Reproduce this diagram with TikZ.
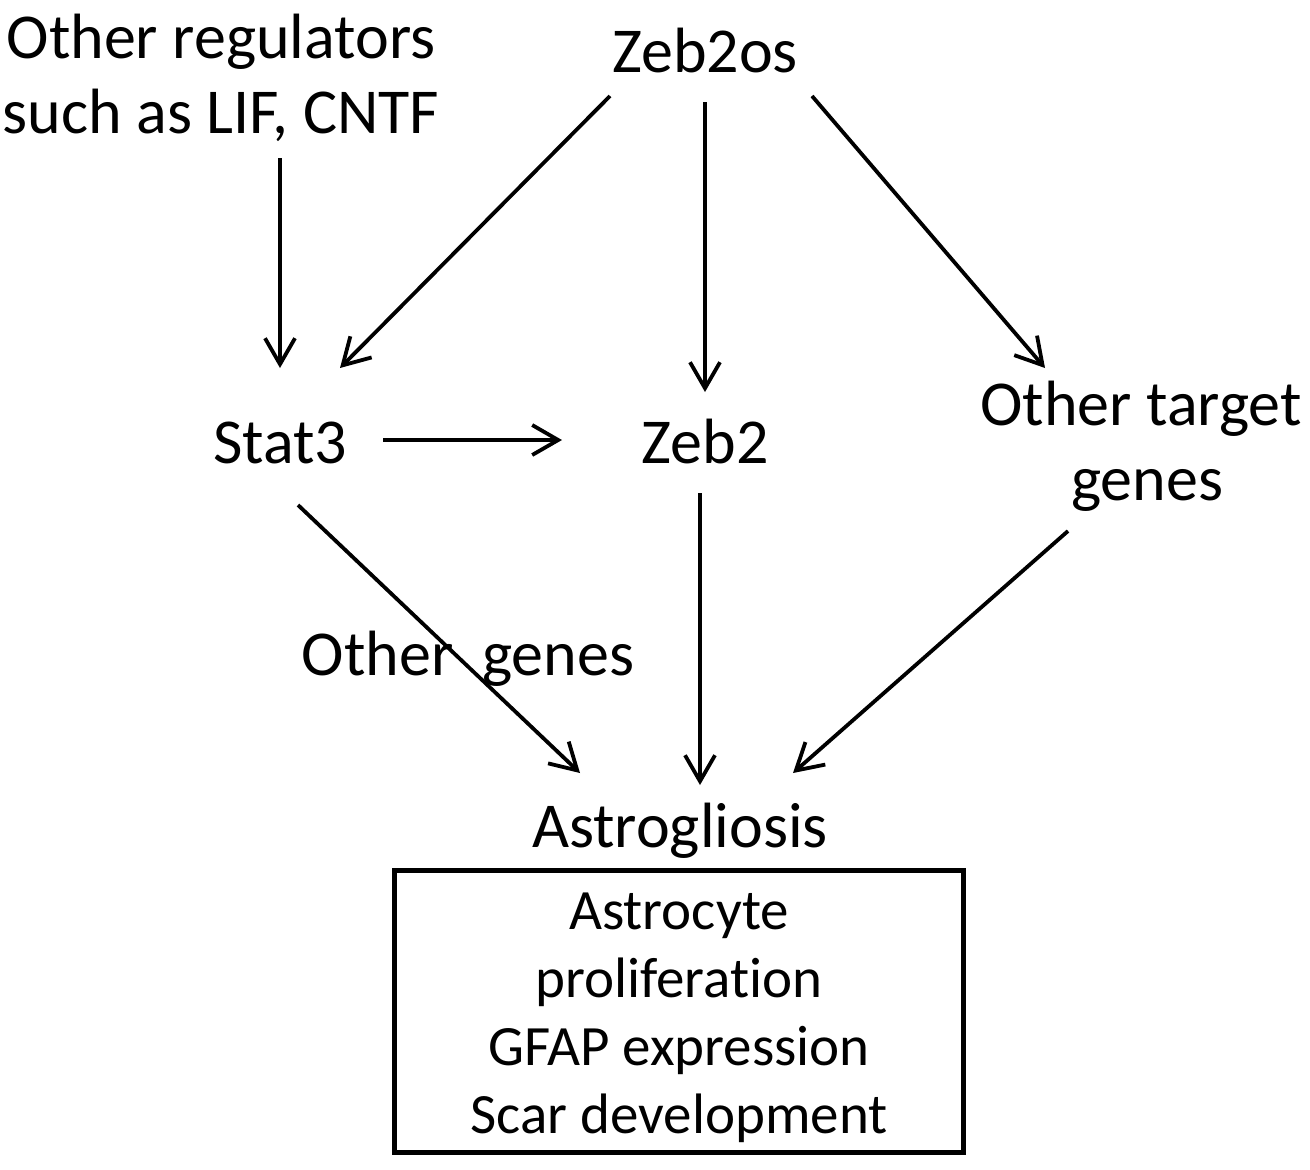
\documentclass[tikz,border=0pt]{standalone}
\usepackage{fontspec}
\setmainfont{Carlito}[Ligatures=NoCommon]
\usetikzlibrary{arrows.meta}
\begin{document}
\begin{tikzpicture}[x=0.5pt,y=-0.5pt,
  lbl/.style={font=\fontsize{32}{37.5}\selectfont, inner sep=0pt, anchor=base, align=center},
  boxtxt/.style={font=\fontsize{28.5}{34}\selectfont, inner sep=0pt, anchor=base, align=center},
  arr/.style={line width=1.9pt, -{Straight Barb[length=13pt,width=15pt]}},
  frame/.style={draw, line width=2.6pt, minimum width=284.5pt, minimum height=141pt, inner sep=0pt}]
\useasboundingbox (0,0) rectangle (1310,1169);
% nodes (base = baseline of the last line)
\node[lbl] (oreg) at (221,133) {Other regulators\\such as LIF, CNTF};
\node[lbl] (zeb2os) at (705,72) {Zeb2os};
\node[lbl] (stat3) at (280,463) {Stat3};
\node[lbl] (zeb2) at (705,463) {Zeb2};
\node[lbl] (otg) at (1141,500) {Other target\\\hspace*{6pt}genes};
\node[lbl] (ogenes) at (468,675) {Other\ \ genes};
\node[lbl] (astro) at (680,847) {Astrogliosis};
\node[frame] (box) at (679,1011.5) {};
\node[boxtxt] (boxt) at (679,1133) {Astrocyte\\proliferation\\GFAP expression\\Scar development};
% connectors
\draw[arr] ([shift={(59,25)}]oreg.base) -- ([shift={(0,-95)}]stat3.base);
\draw[arr] ([shift={(-95,24)}]zeb2os.base) -- ([shift={(60,-95)}]stat3.base);
\draw[arr] ([shift={(0,30)}]zeb2os.base) -- ([shift={(0,-71)}]zeb2.base);
\draw[arr] ([shift={(107,24)}]zeb2os.base) -- ([shift={(-96,-132)}]otg.base);
\draw[arr] ([shift={(103,-23)}]stat3.base) -- ([shift={(-143,-23)}]zeb2.base);
\draw[arr] ([shift={(18,42)}]stat3.base) -- ([shift={(-100,-74)}]astro.base);
\draw[arr] ([shift={(-5,30)}]zeb2.base) -- ([shift={(20,-62)}]astro.base);
\draw[arr] ([shift={(-73,31)}]otg.base) -- ([shift={(113,-74)}]astro.base);
\end{tikzpicture}
\end{document}
